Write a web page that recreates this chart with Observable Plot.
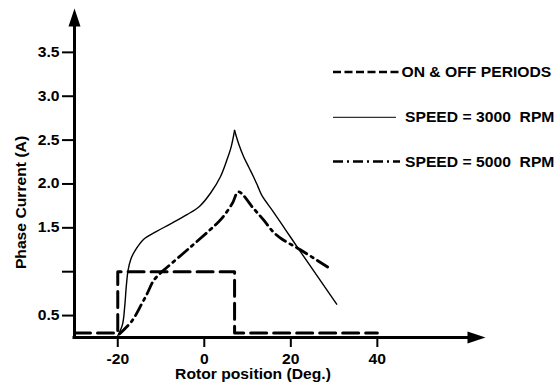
<!DOCTYPE html>
<html>
<head>
<meta charset="utf-8">
<script src="https://cdn.jsdelivr.net/npm/d3@7"></script>
<script src="https://cdn.jsdelivr.net/npm/@observablehq/plot@0.6"></script>
<style>
  html, body { margin: 0; padding: 0; background: white; }
</style>
</head>
<body>
<div id="chart"></div>
<script>
// ---- data ----
const xDomain = [-30, 65];
const yDomain = [0.25, 4.0];
const xTicks = [-20, 0, 20, 40];
const yTicks = [0.5, 1.0, 1.5, 2.0, 2.5, 3.0, 3.5];
const yTickLabels = ["0.5", "", "1.5", "2.0", "2.5", "3.0", "3.5"];

const xLabel = "Rotor position (Deg.)";
const yLabel = "Phase Current (A)";
const legendLabels = ["ON & OFF PERIODS", "SPEED = 3000  RPM", "SPEED = 5000  RPM"];

// ON & OFF periods
const onOffX = [-30, -20, -20, 7, 7, 40];
const onOffY = [0.3, 0.3, 1.0, 1.0, 0.3, 0.3];

// SPEED = 3000 RPM (rise to peak, then fall)
const s3000RiseX = [-20, -18.9, -18.4, -18.0, -17.6, -17.0, -16.0, -14.0, -11.0, -8.0, -4.0, -1.0, 1.5, 3.7, 5.2, 6.2, 7.0];
const s3000RiseY = [0.27, 0.40, 0.60, 0.85, 1.02, 1.14, 1.24, 1.37, 1.46, 1.54, 1.65, 1.75, 1.90, 2.08, 2.27, 2.42, 2.61];
const s3000FallX = [7.0, 8.0, 9.1, 10.3, 11.4, 12.4, 13.3, 16.0, 19.1, 22.2, 30.6];
const s3000FallY = [2.61, 2.45, 2.31, 2.19, 2.08, 1.97, 1.87, 1.68, 1.455, 1.23, 0.63];

// SPEED = 5000 RPM
const s5000X = [-19.6, -16.7, -14.5, -13.2, -11.7, -10.0, -8.6, -3.2, 2.5, 4.1, 6.5, 7.9, 11.4, 13.7, 16.0, 18.0, 22.2, 28.6];
const s5000Y = [0.29, 0.44, 0.63, 0.75, 0.90, 0.99, 1.05, 1.28, 1.53, 1.61, 1.78, 1.91, 1.72, 1.59, 1.45, 1.37, 1.25, 1.05];

// ---- tables ----
const onOff = onOffX.map((x, i) => ({x, y: onOffY[i]}));
const s3000 = [
  ...s3000RiseX.map((x, i) => ({x, y: s3000RiseY[i], seg: "rise"})),
  ...s3000FallX.map((x, i) => ({x, y: s3000FallY[i], seg: "fall"}))
];
const s5000 = s5000X.map((x, i) => ({x, y: s5000Y[i]}));

const arrowSymbol = {
  draw(ctx) {
    ctx.moveTo(0, 0);
    ctx.lineTo(6, 18);
    ctx.lineTo(-6, 18);
    ctx.closePath();
  }
};
const arrows = [
  {x: xDomain[0], y: yDomain[1], rot: 0},
  {x: xDomain[1], y: yDomain[0], rot: 90}
];

const fontFamily = "'Liberation Sans', Arial, Helvetica, sans-serif";
const stretch = " scale(1.12,1)";

const svg = Plot.plot({
  width: 560,
  height: 384,
  marginLeft: 74,
  marginRight: 75,
  marginTop: 8,
  marginBottom: 47,
  x: {domain: xDomain},
  y: {domain: yDomain},
  style: {
    fontFamily,
    fontSize: "14px",
    fontWeight: "bold",
    color: "black",
    background: "white"
  },
  marks: [
    Plot.axisX({ticks: xTicks, tickSize: 10, tickPadding: 7, strokeWidth: 2, label: null, tickFormat: d => String(d)}),
    Plot.axisY({ticks: yTicks, tickSize: 12, tickPadding: 3, strokeWidth: 2, label: null,
      tickFormat: d => yTickLabels[yTicks.indexOf(d)]}),
    Plot.ruleX([xDomain[0]], {y1: yDomain[0], y2: yDomain[1] - 0.15, strokeWidth: 3, strokeLinecap: "square"}),
    Plot.ruleY([yDomain[0]], {x1: xDomain[0], x2: xDomain[1] - 3, strokeWidth: 3, strokeLinecap: "square"}),
    Plot.dot(arrows, {x: "x", y: "y", rotate: "rot", symbol: arrowSymbol, fill: "black", stroke: "none"}),
    Plot.line(onOff, {x: "x", y: "y", stroke: "black", strokeWidth: 3, strokeDasharray: "16,7"}),
    Plot.line(s3000, {x: "x", y: "y", z: "seg", curve: "catmull-rom", stroke: "black", strokeWidth: 1.4}),
    Plot.line(s5000, {x: "x", y: "y", curve: "catmull-rom", stroke: "black", strokeWidth: 2.8, strokeDasharray: "12,5,2.5,5"})
  ]
});

document.getElementById("chart").appendChild(svg);

const root = d3.select(svg);

// widen the axis tick labels like the reference's stretched font
root.selectAll("text").each(function() {
  const t = d3.select(this);
  let tr = t.attr("transform");
  if (tr == null) {
    const x = +t.attr("x") || 0, y = +t.attr("y") || 0;
    t.attr("x", null).attr("y", null);
    tr = `translate(${x},${y})`;
  }
  t.attr("transform", tr + stretch);
});

// ---- labels & legend ----
const g = root.append("g")
  .attr("font-family", fontFamily)
  .attr("font-size", 14)
  .attr("font-weight", "bold")
  .attr("fill", "black")
  .attr("text-anchor", "start");

g.append("text")
  .attr("transform", "translate(253,379)" + stretch)
  .attr("text-anchor", "middle")
  .text(xLabel);

g.append("text")
  .attr("transform", "translate(26,202.5) rotate(-90)" + stretch)
  .attr("text-anchor", "middle")
  .text(yLabel);

const legendY = [72, 117.3, 161.5];
const legendX2 = [401, 396, 400];
const legendDash = ["8,3.5", null, "10,4,2,4"];
const legendWidth = [2.6, 1, 2.6];
const legendTextX = [401.5, 405, 405];
legendLabels.forEach((lab, i) => {
  const ln = g.append("line")
    .attr("x1", 333).attr("x2", legendX2[i])
    .attr("y1", legendY[i]).attr("y2", legendY[i])
    .attr("stroke", "black")
    .attr("stroke-width", legendWidth[i]);
  if (legendDash[i]) ln.attr("stroke-dasharray", legendDash[i]);
  g.append("text")
    .attr("transform", `translate(${legendTextX[i]},${legendY[i]})` + stretch)
    .attr("text-anchor", "start")
    .attr("dy", "0.36em")
    .style("white-space", "pre")
    .text(lab);
});
</script>
</body>
</html>
